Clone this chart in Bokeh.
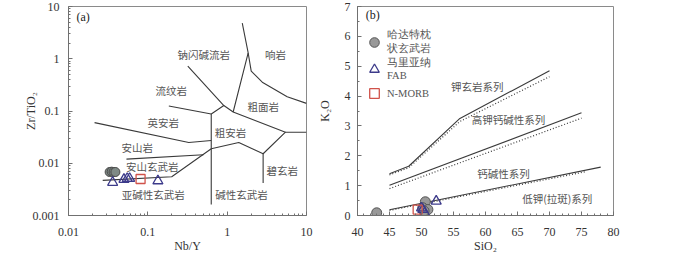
from bokeh.plotting import figure
from bokeh.layouts import row
from bokeh.models import Range1d, FixedTicker, CustomJSTickFormatter, Legend, LegendItem, Label
from bokeh.core.properties import value
from bokeh.embed import file_html
from bokeh.resources import INLINE

# ---------------- data: (a) Nb/Y vs Zr/TiO2 ----------------
a_x_ticks = [0.01, 0.1, 1, 10]
a_y_ticks = [0.001, 0.01, 0.1, 1, 10]

# boundary lines (Winchester & Floyd)
b_subalk_x = [0.027, 0.20, 0.63, 1.40, 2.84, 5.43, 10]
b_subalk_y = [0.0047, 0.0055, 0.019, 0.0249, 0.0152, 0.0393, 0.0393]
b_vert_x = [0.63, 0.63]
b_vert_y = [0.0877, 0.00162]
b_basan_x = [2.84, 2.84]
b_basan_y = [0.0152, 0.0042]
b_rhy_x = [0.184, 0.63]
b_rhy_y = [0.1245, 0.0877]
b_dac_x = [0.0213, 0.328, 0.63]
b_dac_y = [0.0599, 0.0249, 0.0272]
b_and_x = [0.0538, 0.503]
b_and_y = [0.0120, 0.0145]
b_com_x = [0.319, 0.908, 0.63]
b_com_y = [0.72, 0.127, 0.0877]
b_ta_x = [0.908, 1.19, 5.43]
b_ta_y = [0.127, 0.0957, 0.0393]
b_pho_x = [1.55, 1.84, 1.19]
b_pho_y = [4.8, 1.29, 0.0957]
b_tr_x = [1.84, 2.01, 2.77, 5.71, 10]
b_tr_y = [1.29, 0.578, 0.356, 0.187, 0.140]

a_lab_text = ["钠闪碱流岩", "响岩", "流纹岩", "粗面岩", "英安岩", "粗安岩", "安山岩",
              "安山玄武岩", "碧玄岩", "亚碱性玄武岩", "碱性玄武岩"]
a_lab_x = [0.508, 4.06, 0.197, 2.84, 0.156, 1.10, 0.0735, 0.1135, 4.94, 0.117, 1.52]
a_lab_y = [1.2, 1.2, 0.244, 0.1245, 0.0599, 0.0386, 0.0204, 0.0087, 0.0073, 0.0025, 0.0025]

a_circ_nby = [0.033, 0.035, 0.037, 0.039]
a_circ_zr = [0.0068, 0.0069, 0.0068, 0.0068]
a_tri_nby = [0.036, 0.050, 0.055, 0.059, 0.134]
a_tri_zr = [0.0043, 0.0049, 0.0051, 0.0051, 0.0046]
a_sq_nby = [0.081]
a_sq_zr = [0.0050]

# ---------------- data: (b) SiO2 vs K2O ----------------
b_x_ticks = [40, 45, 50, 55, 60, 65, 70, 75, 80]
b_y_ticks = [0, 1, 2, 3, 4, 5, 6, 7]

sho_x = [45, 48, 56, 70]
sho_y = [1.40, 1.65, 3.25, 4.85]
sho_dot_x = [45, 48, 56, 70]
sho_dot_y = [1.36, 1.60, 3.15, 4.65]
hk_x = [45, 75]
hk_y = [1.01, 3.44]
hk_dot_x = [45, 75]
hk_dot_y = [0.90, 3.26]
ca_x = [45, 78]
ca_y = [0.19, 1.62]
ca_dot_x = [45, 75.5]
ca_dot_y = [0.17, 1.46]

b_lab_text = ["钾玄岩系列", "高钾钙碱性系列", "钙碱性系列", "低钾(拉斑)系列"]
b_lab_x = [58.7, 63.6, 62.8, 71.2]
b_lab_y = [4.33, 3.2, 1.4, 0.58]

b_circ_si = [43.0, 50.6, 50.2, 51.0, 50.4]
b_circ_k = [0.09, 0.46, 0.26, 0.20, 0.15]
b_tri_si = [52.3, 50.2, 50.5, 50.0]
b_tri_k = [0.48, 0.20, 0.09, 0.25]
b_sq_si = [49.4]
b_sq_k = [0.20]

legend_labels = ["哈达特枕\n状玄武岩", "马里亚纳\nFAB", "N-MORB"]

# ---------------- styling ----------------
LINE = "#3a3a3a"
AXC = "#707070"
SERIF = "Liberation Serif"
CJK = "Noto Sans CJK SC"
CIRC_FILL = "#999999"
CIRC_LINE = "#555555"
TRI = "#3c3a8a"
SQ = "#d0524a"


def style(p):
    p.xgrid.visible = False
    p.ygrid.visible = False
    p.outline_line_color = "#8a8a8a"
    p.background_fill_color = "white"
    p.border_fill_color = "white"
    for ax in list(p.xaxis) + list(p.yaxis):
        ax.major_tick_in = 4
        ax.major_tick_out = 0
        ax.minor_tick_in = 2
        ax.minor_tick_out = 0
        ax.axis_line_color = AXC
        ax.major_tick_line_color = AXC
        ax.minor_tick_line_color = AXC
        ax.major_label_text_font = SERIF
        ax.major_label_text_font_size = "12px"
        ax.major_label_text_color = "#333333"
        ax.axis_label_text_font = SERIF
        ax.axis_label_text_font_style = "normal"
        ax.axis_label_text_font_size = "12px"
        ax.axis_label_text_color = "#333333"


def log_minor(ticks):
    out = []
    for t in ticks[:-1]:
        out += [t * k for k in range(2, 10)]
    return out


fmt = CustomJSTickFormatter(code="return String(tick);")

# ---------------- panel (a) ----------------
pa = figure(width=314, height=255, x_axis_type="log", y_axis_type="log",
            x_range=Range1d(0.01, 10), y_range=Range1d(0.001, 10),
            output_backend="svg", toolbar_location=None,
            min_border_left=68, min_border_right=8, min_border_top=6, min_border_bottom=39)
style(pa)
pa.xaxis.ticker = FixedTicker(ticks=a_x_ticks, minor_ticks=log_minor(a_x_ticks))
pa.yaxis.ticker = FixedTicker(ticks=a_y_ticks, minor_ticks=log_minor(a_y_ticks))
pa.xaxis.formatter = fmt
pa.yaxis.formatter = fmt
pa.xaxis.axis_label = "Nb/Y"
pa.yaxis.axis_label = "Zr/TiO₂"
pa.xaxis.major_label_standoff = 12
pa.xaxis.axis_label_standoff = 0
pa.yaxis.major_label_standoff = 9
pa.yaxis.axis_label_standoff = -8

for xs, ys in [(b_subalk_x, b_subalk_y), (b_vert_x, b_vert_y), (b_basan_x, b_basan_y),
               (b_rhy_x, b_rhy_y), (b_dac_x, b_dac_y), (b_and_x, b_and_y),
               (b_com_x, b_com_y), (b_ta_x, b_ta_y), (b_pho_x, b_pho_y), (b_tr_x, b_tr_y)]:
    pa.line(xs, ys, line_color=LINE, line_width=1.1)

pa.text(x=a_lab_x, y=a_lab_y, text=a_lab_text, text_font=value(CJK), text_font_size="10.5px",
        text_align="center", text_baseline="middle", text_color="#555555")

pa.scatter(a_circ_nby, a_circ_zr, marker="circle", size=9, fill_color="#7f8a86",
           line_color="#4a4a4a", line_width=1)
pa.scatter(a_tri_nby, a_tri_zr, marker="triangle", size=10, fill_color=None,
           line_color=TRI, line_width=1.3)
pa.scatter(a_sq_nby, a_sq_zr, marker="square", size=9, fill_color=None,
           line_color=SQ, line_width=1.3)
pa.add_layout(Label(x=0.0126, y=6.3, text="(a)", text_font=SERIF, text_font_size="12px",
                    text_baseline="middle", text_color="#222222"))

# ---------------- panel (b) ----------------
pb = figure(width=311, height=255, x_range=Range1d(40, 80), y_range=Range1d(0, 7),
            output_backend="svg", toolbar_location=None,
            min_border_left=41, min_border_right=12, min_border_top=6, min_border_bottom=39)
style(pb)
pb.xaxis.ticker = FixedTicker(ticks=b_x_ticks, minor_ticks=list(range(40, 81)))
pb.yaxis.ticker = FixedTicker(ticks=b_y_ticks, minor_ticks=[i * 0.5 for i in range(15)])
pb.xaxis.axis_label = "SiO₂"
pb.yaxis.axis_label = "K₂O"
pb.xaxis.major_label_standoff = 12
pb.xaxis.axis_label_standoff = 0
pb.yaxis.major_label_standoff = 7
pb.yaxis.axis_label_standoff = 10

for xs, ys in [(sho_x, sho_y), (hk_x, hk_y), (ca_x, ca_y)]:
    pb.line(xs, ys, line_color=LINE, line_width=1.1)
for xs, ys in [(sho_dot_x, sho_dot_y), (hk_dot_x, hk_dot_y), (ca_dot_x, ca_dot_y)]:
    pb.line(xs, ys, line_color=LINE, line_width=1.2, line_dash="1 2")

pb.text(x=b_lab_x, y=b_lab_y, text=b_lab_text, text_font=value(CJK), text_font_size="10.5px",
        text_align="center", text_baseline="middle", text_color="#555555")

rc = pb.scatter(b_circ_si, b_circ_k, marker="circle", size=10, fill_color=CIRC_FILL,
                line_color=CIRC_LINE, line_width=1)
rt = pb.scatter(b_tri_si, b_tri_k, marker="triangle", size=10, fill_color=None,
                line_color=TRI, line_width=1.3)
rs = pb.scatter(b_sq_si, b_sq_k, marker="square", size=9, fill_color=None,
                line_color=SQ, line_width=1.3)
pb.add_layout(Label(x=41.3, y=6.7, text="(b)", text_font=SERIF, text_font_size="12px",
                    text_baseline="middle", text_color="#222222"))

legend = Legend(items=[LegendItem(label=legend_labels[0], renderers=[rc]),
                       LegendItem(label=legend_labels[1], renderers=[rt]),
                       LegendItem(label=legend_labels[2], renderers=[rs])],
                location=(5, 110), background_fill_alpha=0, border_line_alpha=0,
                label_text_font=SERIF, label_text_font_size="10.5px", label_text_color="#555555",
                label_text_line_height=1.0,
                glyph_width=24, glyph_height=24, padding=0, margin=0, spacing=0,
                label_standoff=1, label_height=24)
pb.add_layout(legend)

layout = row(pa, pb)
open("out.html", "w").write(file_html(layout, INLINE))
